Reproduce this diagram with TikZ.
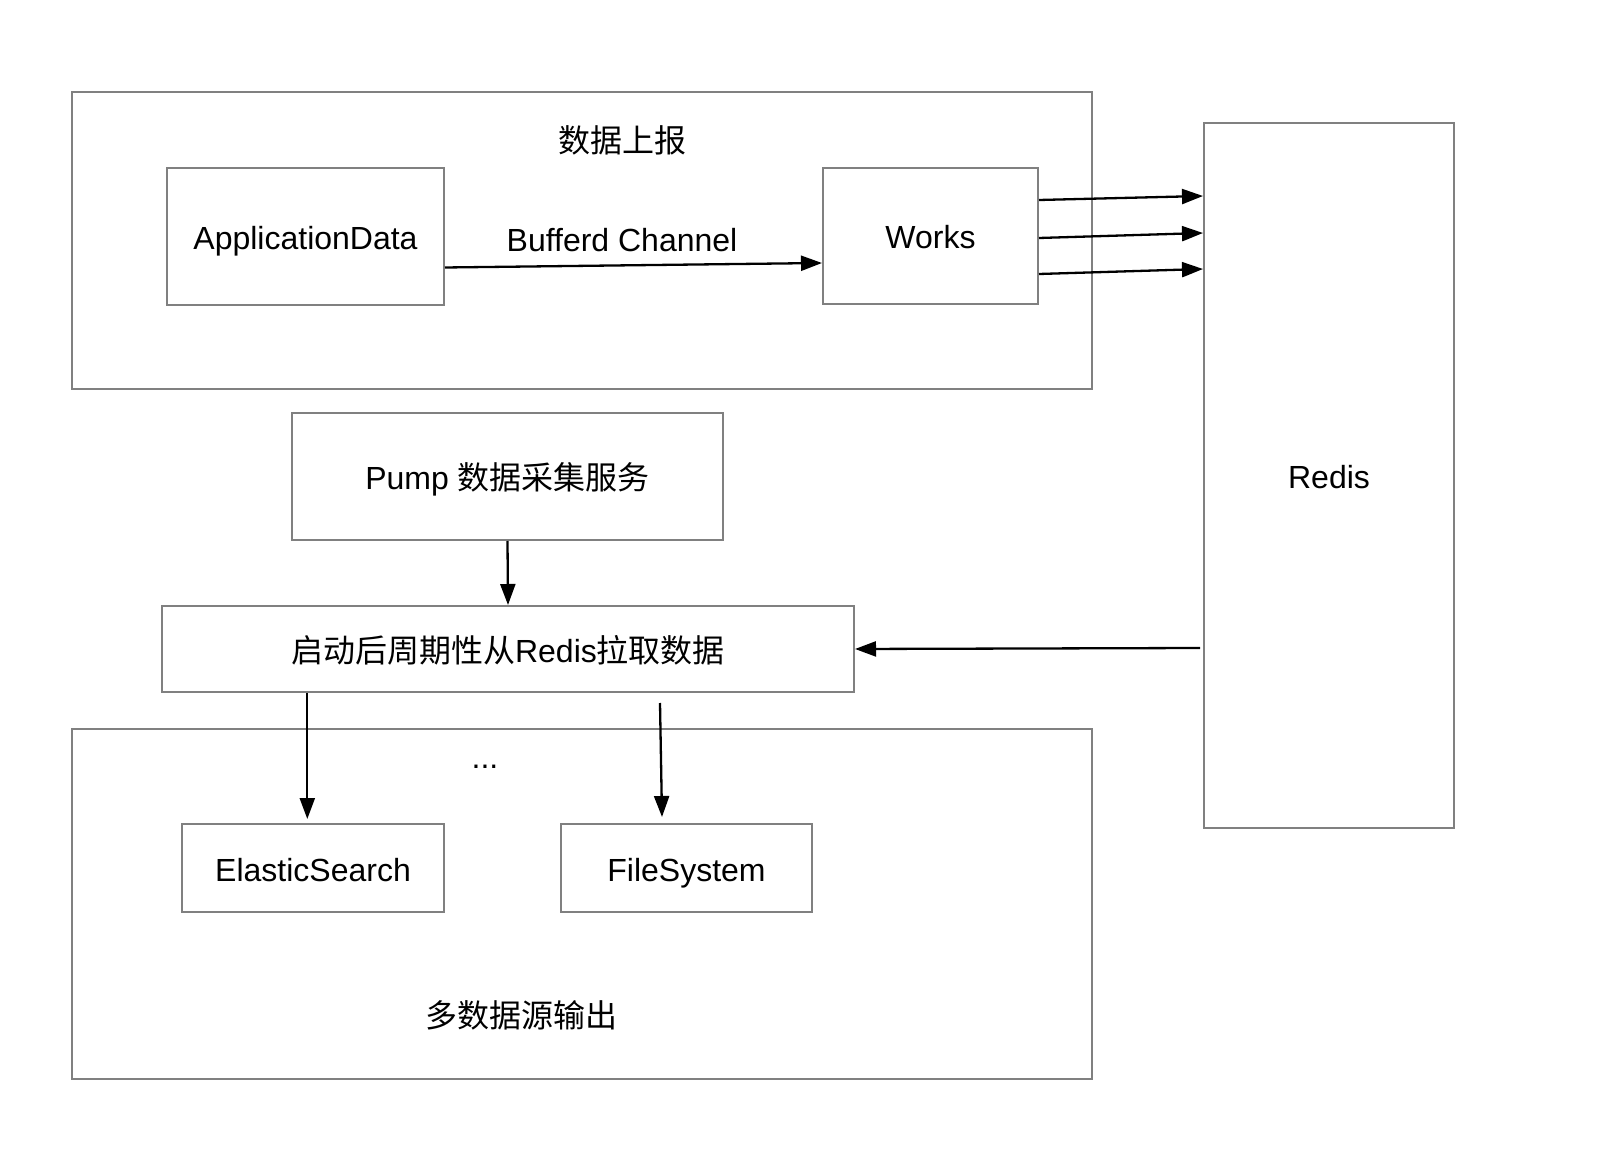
\documentclass[tikz,border=0pt]{standalone}
\usepackage{fontspec}
\setmainfont{Liberation Sans}
\newfontfamily\cjk{Noto Sans CJK SC}
\usetikzlibrary{arrows.meta}

\begin{document}
\begin{tikzpicture}[x=0.5pt,y=-0.5pt,font=\fontsize{16pt}{19pt}\selectfont]
\tikzstyle{box}=[draw=gray,line width=1pt,rectangle,inner sep=0pt,text height=14pt,text depth=1pt]
\tikzstyle{arr}=[line width=1.15pt,-{Triangle[length=10.5pt,width=7.5pt]}]

\useasboundingbox (0,0) rectangle (1622,1154);

\node[box,minimum width=510pt,minimum height=148.75pt] (up) at (582,240.75) {};
\node (uplbl) at (622,140) {\cjk 数据上报};
\node[box,minimum width=138.5pt,minimum height=68.5pt] (app) at (305.5,236.5) {ApplicationData};
\node[box,minimum width=107.5pt,minimum height=68pt] (works) at (930.5,236) {Works};
\node (chan) at (622,240) {Bufferd Channel};
\draw[arr] ([yshift=-15.5pt]app.east) -- ([yshift=-13.5pt]works.west);

\node[box,minimum width=125pt,minimum height=352.5pt] (redis) at (1329,475.5) {Redis};
\foreach \s/\e in {18pt/139.75pt,-1pt/121.25pt,-19pt/103.25pt}
	\draw[arr] ([yshift=\s]works.east) -- ([yshift=\e]redis.west);

\node[box,minimum width=215.5pt,minimum height=63.5pt] (pump) at (507.5,476.5) {Pump {\cjk 数据采集服务}};
\node[box,minimum width=346pt,minimum height=43pt] (pull) at (508,649) {{\cjk 启动后周期性从}Redis{\cjk 拉取数据}};
\draw[arr] (pump.south) -- (pull.north);
\draw[arr] ([xshift=-1.5pt,yshift=-86.25pt]redis.west) -- (pull.east);

\node[box,minimum width=510pt,minimum height=175pt] (out) at (582,904) {};
\node[anchor=base] (dots) at (485,768) {...};
\node[box,minimum width=131pt,minimum height=44pt] (es) at (313,868) {ElasticSearch};
\node[box,minimum width=125.5pt,minimum height=44pt] (fs) at (686.5,868) {FileSystem};
\node (outlbl) at (521,1015) {\cjk 多数据源输出};
\draw[arr] ([xshift=-2.85pt]es.north |- pull.south) -- ([xshift=-2.85pt,yshift=2pt]es.north);
\draw[arr] ([xshift=-13.25pt,yshift=-5pt]fs.north |- pull.south) -- ([xshift=-12.25pt,yshift=3pt]fs.north);
\end{tikzpicture}
\end{document}
